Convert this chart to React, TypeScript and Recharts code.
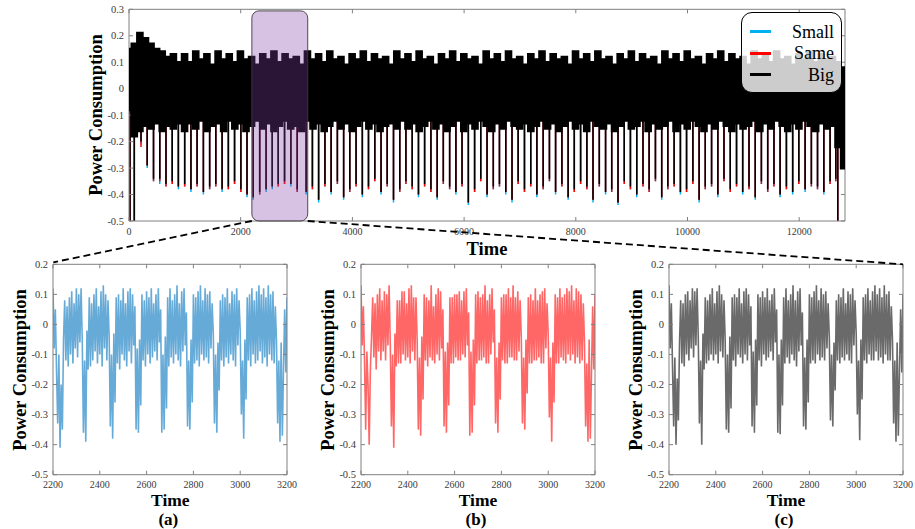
import { ComposedChart, LineChart, Line, Bar, XAxis, YAxis, ReferenceArea, Legend } from 'recharts'

const FONT = '"Liberation Serif", "Times New Roman", serif'
const AXIS = '#808080'
const TICK_TXT = '#3a3a3a'

// ---- top trace: envelope of the dense signal, read every 100 time units
const BAND_STEP = 100
const BAND_HI = [
  0.15, 0.17, 0.21, 0.19, 0.17, 0.15, 0.14, 0.12, 0.13, 0.10,
  0.13, 0.10, 0.14, 0.11, 0.13, 0.09, 0.14, 0.11, 0.13, 0.10,
  0.14, 0.11, 0.12, 0.09, 0.13, 0.11, 0.14, 0.10, 0.13, 0.11,
  0.12, 0.09, 0.14, 0.11, 0.13, 0.10, 0.14, 0.11, 0.12, 0.09,
  0.13, 0.11, 0.14, 0.10, 0.13, 0.11, 0.12, 0.09, 0.14, 0.11,
  0.13, 0.10, 0.14, 0.11, 0.12, 0.09, 0.13, 0.11, 0.14, 0.10,
  0.13, 0.11, 0.12, 0.09, 0.14, 0.11, 0.13, 0.10, 0.14, 0.11,
  0.12, 0.09, 0.13, 0.11, 0.14, 0.10, 0.13, 0.11, 0.12, 0.09,
  0.14, 0.11, 0.13, 0.10, 0.14, 0.11, 0.12, 0.09, 0.13, 0.11,
  0.14, 0.10, 0.13, 0.11, 0.12, 0.09, 0.14, 0.11, 0.13, 0.10,
  0.14, 0.11, 0.12, 0.09, 0.13, 0.11, 0.14, 0.10, 0.13, 0.11,
  0.12, 0.09, 0.14, 0.11, 0.13, 0.10, 0.14, 0.11, 0.12, 0.09,
  0.13, 0.11, 0.14, 0.10, 0.13, 0.11, 0.12, 0.10, 0.08,
]
const BAND_LO = [
  -0.08, -0.18, -0.16, -0.14, -0.15, -0.13, -0.16, -0.14, -0.15, -0.13,
  -0.16, -0.13, -0.15, -0.12, -0.16, -0.14, -0.13, -0.16, -0.12, -0.15,
  -0.13, -0.16, -0.14, -0.12, -0.15, -0.13, -0.16, -0.14, -0.12, -0.15,
  -0.14, -0.16, -0.12, -0.15, -0.13, -0.16, -0.14, -0.12, -0.15, -0.13,
  -0.16, -0.14, -0.12, -0.15, -0.13, -0.16, -0.14, -0.13, -0.15, -0.12,
  -0.15, -0.13, -0.16, -0.14, -0.12, -0.15, -0.13, -0.16, -0.14, -0.12,
  -0.16, -0.13, -0.15, -0.12, -0.14, -0.16, -0.13, -0.15, -0.12, -0.14,
  -0.15, -0.13, -0.16, -0.14, -0.12, -0.15, -0.13, -0.16, -0.14, -0.12,
  -0.15, -0.13, -0.16, -0.12, -0.14, -0.15, -0.13, -0.16, -0.14, -0.12,
  -0.15, -0.14, -0.12, -0.16, -0.13, -0.15, -0.14, -0.12, -0.16, -0.13,
  -0.15, -0.12, -0.14, -0.16, -0.13, -0.15, -0.12, -0.14, -0.16, -0.13,
  -0.15, -0.14, -0.12, -0.16, -0.13, -0.15, -0.12, -0.14, -0.16, -0.13,
  -0.15, -0.12, -0.14, -0.16, -0.13, -0.15, -0.14, -0.22, -0.30,
]

// downward spikes, one per cycle
const SPIKE_T = [
  18, 95, 215, 326, 439, 551, 662, 774, 884, 997, 1109, 1219, 1332, 1444, 1554, 1667, 1779, 1890, 2003, 2113,
  2225, 2340, 2455, 2565, 2672, 2785, 2898, 3012, 3172,
  3284, 3395, 3508, 3619, 3731, 3843, 3953, 4066, 4178, 4288,
  4401, 4513, 4623, 4736, 4848, 4958, 5071, 5183, 5293, 5406,
  5518, 5628, 5741, 5853, 5963, 6076, 6188, 6298, 6411, 6523,
  6633, 6746, 6858, 6968, 7081, 7193, 7303, 7416, 7528, 7638,
  7751, 7863, 7973, 8086, 8198, 8308, 8421, 8533, 8643, 8756,
  8868, 8978, 9091, 9203, 9313, 9426, 9538, 9648, 9761, 9873,
  9983, 10096, 10208, 10318, 10431, 10543, 10653, 10766, 10878, 10988,
  11101, 11213, 11323, 11436,
  11548, 11658, 11771, 11883, 11993, 12106, 12218, 12328, 12441, 12553,
  12655, 12690,
]
const SPIKE_BIG = [
  -0.6, -0.6, -0.20, -0.29, -0.34, -0.34, -0.36, -0.35, -0.37, -0.36, -0.38, -0.36, -0.39, -0.37, -0.36, -0.38, -0.37, -0.35, -0.38, -0.40,
  -0.41, -0.39, -0.38, -0.37, -0.36, -0.35, -0.36, -0.38, -0.39,
  -0.37, -0.42, -0.36, -0.39, -0.35, -0.41, -0.38, -0.36, -0.40, -0.37,
  -0.34, -0.39, -0.36, -0.42, -0.38, -0.35, -0.37, -0.40, -0.36, -0.38,
  -0.41, -0.35, -0.37, -0.39, -0.36, -0.43, -0.38, -0.34, -0.40, -0.37,
  -0.36, -0.39, -0.42, -0.35, -0.38, -0.36, -0.40, -0.37, -0.34, -0.39,
  -0.36, -0.41, -0.38, -0.35, -0.37, -0.42, -0.36, -0.39, -0.38, -0.43,
  -0.35, -0.37, -0.40, -0.36, -0.38, -0.34, -0.41, -0.37, -0.36, -0.39,
  -0.38, -0.35, -0.42, -0.37, -0.36, -0.40, -0.34, -0.38, -0.36, -0.39,
  -0.37, -0.41, -0.35, -0.38,
  -0.36, -0.40, -0.37, -0.39, -0.35, -0.38, -0.36, -0.37, -0.39, -0.35,
  -0.34, -0.6,
]
const SPIKE_SMALL = [
  -0.6, -0.6, -0.21, -0.30, -0.35, -0.36, -0.37, -0.36, -0.38, -0.37, -0.39, -0.37, -0.40, -0.38, -0.37, -0.39, -0.38, -0.36, -0.39, -0.41,
  -0.42, -0.40, -0.39, -0.38, -0.37, -0.36, -0.37, -0.39, -0.40,
  -0.38, -0.43, -0.37, -0.40, -0.36, -0.42, -0.39, -0.37, -0.41, -0.38,
  -0.35, -0.40, -0.37, -0.43, -0.39, -0.36, -0.38, -0.41, -0.37, -0.39,
  -0.42, -0.36, -0.38, -0.40, -0.37, -0.44, -0.39, -0.35, -0.41, -0.38,
  -0.37, -0.40, -0.43, -0.36, -0.39, -0.37, -0.41, -0.38, -0.35, -0.40,
  -0.37, -0.42, -0.39, -0.36, -0.38, -0.43, -0.37, -0.40, -0.39, -0.44,
  -0.36, -0.38, -0.41, -0.37, -0.39, -0.35, -0.42, -0.38, -0.37, -0.40,
  -0.39, -0.36, -0.43, -0.38, -0.37, -0.41, -0.35, -0.39, -0.37, -0.40,
  -0.38, -0.42, -0.36, -0.39,
  -0.37, -0.41, -0.38, -0.40, -0.36, -0.39, -0.37, -0.38, -0.40, -0.36,
  -0.35, -0.6,
]
const SPIKE_SAME = [
  -0.6, -0.6, -0.22, -0.29, -0.35, -0.35, -0.37, -0.36, -0.37, -0.37, -0.38, -0.37, -0.39, -0.38, -0.37, -0.38, -0.38, -0.36, -0.39, -0.40,
  -0.41, -0.40, -0.38, -0.37, -0.37, -0.36, -0.36, -0.39, -0.39,
  -0.38, -0.42, -0.37, -0.39, -0.36, -0.41, -0.39, -0.37, -0.40, -0.38,
  -0.35, -0.39, -0.37, -0.42, -0.39, -0.36, -0.38, -0.40, -0.37, -0.39,
  -0.41, -0.36, -0.38, -0.39, -0.37, -0.43, -0.39, -0.35, -0.40, -0.38,
  -0.37, -0.39, -0.42, -0.36, -0.39, -0.37, -0.40, -0.38, -0.35, -0.39,
  -0.37, -0.41, -0.39, -0.36, -0.38, -0.42, -0.37, -0.39, -0.39, -0.43,
  -0.36, -0.38, -0.40, -0.37, -0.39, -0.35, -0.41, -0.38, -0.37, -0.39,
  -0.39, -0.36, -0.42, -0.38, -0.37, -0.40, -0.35, -0.39, -0.37, -0.39,
  -0.38, -0.41, -0.36, -0.39,
  -0.37, -0.40, -0.38, -0.39, -0.36, -0.38, -0.37, -0.38, -0.39, -0.36,
  -0.35, -0.6,
]
const SPIKE_BASE = -0.04

const TOP_X_MAX = 12820
const TOP_X_TICKS = [0, 2000, 4000, 6000, 8000, 10000, 12000]
const TOP_Y_TICKS = [-0.5, -0.4, -0.3, -0.2, -0.1, 0, 0.1, 0.2, 0.3]
const ZOOM_RANGE = [2200, 3200]
const ZOOM_TOP = 0.294

// ---- zoomed window 2200..3200, read every 5 time units
const DETAIL_START = 2200
const DETAIL_STEP = 5
const DETAIL_SMALL = [
  0.12, -0.08, 0.05,
  -0.15, -0.33, -0.1, -0.41, -0.2, -0.35, -0.05,
  0.08, -0.12, 0.06, -0.14, 0.09, -0.1, 0.11, -0.13, 0.07, -0.08, 0.12, -0.11, 0.1, -0.06, 0.12,
  -0.05, -0.36, -0.12, -0.39, -0.02, -0.15,
  0.09, -0.14, 0.07, -0.12, 0.1, -0.09, 0.12, -0.13, 0.06, -0.1, 0.11, -0.14, 0.13, -0.08, 0.1, -0.12, 0.08, -0.04,
  -0.34, -0.1, -0.38, -0.03, -0.26,
  0.09, -0.13, 0.1, -0.15, 0.08, -0.1, 0.12, -0.12, 0.07, -0.14, 0.11, -0.09, 0.12, -0.13, 0.1, -0.07, 0.06,
  -0.35, -0.08, -0.36, -0.05, -0.27,
  0.1, -0.12, 0.08, -0.14, 0.11, -0.1, 0.09, -0.13, 0.12, -0.11, 0.07, -0.09, 0.1, -0.12, 0.12, -0.06, 0.05,
  -0.36, -0.1, -0.35, -0.04, -0.28,
  0.09, -0.14, 0.12, -0.11, 0.08, -0.13, 0.1, -0.1, 0.13, -0.12, 0.07, -0.14, 0.11, -0.09, 0.12, -0.07, 0.04,
  -0.34, -0.12, -0.35, -0.05, -0.26,
  0.1, -0.13, 0.09, -0.12, 0.11, -0.14, 0.13, -0.1, 0.08, -0.12, 0.12, -0.11, 0.1, -0.13, 0.11, -0.08, 0.07, -0.03,
  -0.33, -0.1, -0.36, -0.06, -0.22,
  0.08, -0.12, 0.1, -0.14, 0.09, -0.11, 0.12, -0.13, 0.07, -0.1, 0.11, -0.12, 0.1, -0.14, 0.12, -0.07, 0.08, -0.02,
  -0.3, -0.12, -0.38, -0.05, -0.25,
  0.09, -0.12, 0.1, -0.14, 0.12, -0.1, 0.08, -0.13, 0.11, -0.12, 0.13, -0.09, 0.1, -0.13, 0.12, -0.11, 0.09, -0.14, 0.13, -0.1, 0.1, -0.12, 0.11, -0.13, 0.06, -0.05,
  -0.33, -0.12, -0.39, -0.06, -0.37, -0.15,
  0.05, -0.16, 0.09,
]
const DETAIL_SAME = [
  0.13, -0.07, 0.06,
  -0.12, -0.35, -0.09, -0.2, -0.4, -0.15, -0.04,
  0.09, -0.11, 0.07, -0.15, 0.1, -0.09, 0.12, -0.12, 0.08, -0.09, 0.11, -0.12, 0.1, -0.07, 0.13,
  -0.06, -0.34, -0.1, -0.41, -0.03, -0.14,
  0.08, -0.13, 0.08, -0.13, 0.11, -0.1, 0.11, -0.12, 0.07, -0.11, 0.12, -0.13, 0.13, -0.09, 0.09, -0.12, 0.09, -0.05,
  -0.35, -0.11, -0.37, -0.04, -0.25,
  0.1, -0.12, 0.09, -0.14, 0.08, -0.11, 0.13, -0.12, 0.06, -0.13, 0.1, -0.1, 0.12, -0.12, 0.11, -0.08, 0.05,
  -0.34, -0.09, -0.36, -0.06, -0.27,
  0.09, -0.13, 0.09, -0.13, 0.1, -0.11, 0.1, -0.12, 0.11, -0.12, 0.08, -0.1, 0.11, -0.11, 0.12, -0.07, 0.04,
  -0.37, -0.09, -0.36, -0.05, -0.27,
  0.1, -0.13, 0.11, -0.12, 0.09, -0.12, 0.1, -0.11, 0.13, -0.13, 0.08, -0.13, 0.1, -0.1, 0.12, -0.06, 0.05,
  -0.33, -0.11, -0.36, -0.06, -0.25,
  0.09, -0.12, 0.1, -0.13, 0.1, -0.13, 0.12, -0.11, 0.09, -0.11, 0.13, -0.12, 0.09, -0.12, 0.11, -0.09, 0.08, -0.04,
  -0.33, -0.11, -0.35, -0.05, -0.23,
  0.09, -0.13, 0.1, -0.13, 0.08, -0.12, 0.12, -0.12, 0.08, -0.11, 0.1, -0.13, 0.11, -0.13, 0.12, -0.08, 0.07, -0.03,
  -0.31, -0.11, -0.39, -0.06, -0.26,
  0.1, -0.13, 0.09, -0.13, 0.12, -0.11, 0.09, -0.12, 0.1, -0.13, 0.12, -0.1, 0.11, -0.12, 0.13, -0.1, 0.08, -0.13, 0.12, -0.11, 0.11, -0.13, 0.1, -0.12, 0.07, -0.06,
  -0.34, -0.13, -0.39, -0.05, -0.38, -0.16,
  0.06, -0.15, 0.1,
]
const DETAIL_BIG = [
  0.13, -0.08, 0.07,
  -0.14, -0.34, -0.11, -0.4, -0.18, -0.32, -0.06,
  0.08, -0.13, 0.07, -0.14, 0.1, -0.1, 0.11, -0.12, 0.08, -0.08, 0.12, -0.11, 0.11, -0.07, 0.12,
  -0.04, -0.33, -0.12, -0.4, -0.03, -0.15,
  0.09, -0.13, 0.08, -0.12, 0.1, -0.1, 0.12, -0.12, 0.07, -0.1, 0.11, -0.13, 0.13, -0.09, 0.1, -0.11, 0.08, -0.05,
  -0.35, -0.1, -0.36, -0.04, -0.28,
  0.09, -0.12, 0.1, -0.14, 0.09, -0.1, 0.12, -0.11, 0.07, -0.13, 0.11, -0.1, 0.12, -0.12, 0.1, -0.07, 0.06,
  -0.34, -0.09, -0.36, -0.05, -0.27,
  0.1, -0.12, 0.09, -0.14, 0.11, -0.1, 0.09, -0.12, 0.12, -0.11, 0.08, -0.09, 0.1, -0.12, 0.12, -0.06, 0.05,
  -0.36, -0.1, -0.365, -0.05, -0.27,
  0.09, -0.13, 0.12, -0.11, 0.08, -0.13, 0.1, -0.1, 0.13, -0.12, 0.08, -0.14, 0.11, -0.09, 0.12, -0.07, 0.04,
  -0.34, -0.11, -0.35, -0.05, -0.26,
  0.1, -0.13, 0.09, -0.12, 0.11, -0.13, 0.13, -0.1, 0.08, -0.12, 0.12, -0.11, 0.1, -0.12, 0.11, -0.08, 0.07, -0.04,
  -0.32, -0.1, -0.34, -0.06, -0.22,
  0.08, -0.12, 0.1, -0.13, 0.09, -0.11, 0.12, -0.12, 0.07, -0.1, 0.11, -0.12, 0.1, -0.13, 0.12, -0.07, 0.08, -0.03,
  -0.3, -0.12, -0.385, -0.05, -0.25,
  0.09, -0.12, 0.1, -0.13, 0.12, -0.1, 0.08, -0.12, 0.11, -0.12, 0.13, -0.09, 0.1, -0.12, 0.12, -0.11, 0.09, -0.13, 0.13, -0.1, 0.1, -0.12, 0.11, -0.12, 0.06, -0.05,
  -0.33, -0.12, -0.39, -0.06, -0.37, -0.15,
  0.05, -0.16, 0.1,
]
const DETAIL_X_TICKS = [2200, 2400, 2600, 2800, 3000, 3200]
const DETAIL_Y_TICKS = [-0.5, -0.4, -0.3, -0.2, -0.1, 0, 0.1, 0.2]

const LEGEND_ORDER = ['Small', 'Same', 'Big']

// layout (page pixels)
const TOP = { left: 129, top: 9.3, width: 716, height: 211.7 }
const DETAIL = { top: 264.3, width: 234, height: 210.4 }
const DETAIL_LEFTS = [53.3, 361, 669]
const AX = { bottom: 30, top: 5, left: 40, right: 10 }

const bandData = BAND_HI.map((hi, i) => ({ t: i * BAND_STEP, band: [BAND_LO[i], hi] }))

function spikeRows(depths: number[]) {
  const n = Math.min(SPIKE_T.length, depths.length)
  const rows: { t: number; v: number }[] = []
  for (let i = 0; i < n; i++) {
    rows.push({ t: SPIKE_T[i], v: SPIKE_BASE }, { t: SPIKE_T[i], v: depths[i] }, { t: SPIKE_T[i], v: SPIKE_BASE })
  }
  return rows
}

const fmt = (v: number) => (v === 0 ? '0' : String(v))

function tickRenderer(side: 'bottom' | 'top' | 'left' | 'right', label: boolean) {
  return (p: any) => {
    const { x, y, payload } = p
    if (side === 'bottom' || side === 'top') {
      const d = side === 'bottom' ? -4 : 4
      return (
        <g>
          <line x1={x} y1={y} x2={x} y2={y + d} stroke={AXIS} />
          {label && (
            <text x={x} y={y + 10} textAnchor="middle" dy="0.35em" fontSize={10} fontFamily={FONT} fill={TICK_TXT}>
              {fmt(payload.value)}
            </text>
          )}
        </g>
      )
    }
    const d = side === 'left' ? 4 : -4
    return (
      <g>
        <line x1={x} y1={y} x2={x + d} y2={y} stroke={AXIS} />
        {label && (
          <text x={x - 5} y={y} textAnchor="end" dy="0.35em" fontSize={10.5} fontFamily={FONT} fill={TICK_TXT}>
            {fmt(payload.value)}
          </text>
        )}
      </g>
    )
  }
}

function YTitle({ cx, cy }: { cx: number; cy: number }) {
  return (
    <div style={{ position: 'absolute', left: cx, top: cy, transform: 'translate(-50%, -50%) rotate(-90deg)', whiteSpace: 'nowrap', fontFamily: FONT, fontWeight: 700, fontSize: 18.5, lineHeight: 0.9, color: '#000' }}>
      Power Consumption
    </div>
  )
}

function CenterText({ cx, cy, text, size = 18.5 }: { cx: number; cy: number; text: string; size?: number }) {
  return (
    <div style={{ position: 'absolute', left: cx, top: cy, transform: 'translate(-50%, -50%)', whiteSpace: 'nowrap', fontFamily: FONT, fontWeight: 700, fontSize: size, lineHeight: 0.85, color: '#000' }}>
      {text}
    </div>
  )
}

function renderLegend(props: any) {
  const payload = props.payload || []
  const items = LEGEND_ORDER.map((name) => payload.find((p: any) => p.value === name)).filter(Boolean)
  return (
    <div style={{ position: 'relative', width: 101, height: 81, boxSizing: 'border-box', border: '1px solid #000', borderRadius: 11, background: 'rgba(255,255,255,0.8)' }}>
      {items.map((it: any, i: number) => (
        <div key={it.value} style={{ position: 'absolute', left: 0, right: 0, top: 18.5 + i * 21.7, height: 0 }}>
          <div style={{ position: 'absolute', left: 8, top: -1.5, width: 21, height: 3, background: it.color }} />
          <div style={{ position: 'absolute', right: 7, top: 0, transform: 'translateY(-50%)', fontFamily: FONT, fontSize: 18, lineHeight: 1, color: '#000' }}>
            {it.value}
          </div>
        </div>
      ))}
    </div>
  )
}

function axisSet(xDomain: number[], xTicks: number[], yDomain: number[], yTicks: number[], visible = true) {
  const common = { axisLine: visible ? { stroke: AXIS } : false, tickLine: false, tickSize: 0, tickMargin: 0, interval: 0 as const }
  return [
    <XAxis key="xb" dataKey="t" type="number" domain={xDomain} ticks={xTicks} allowDataOverflow height={AX.bottom} {...common} tick={visible ? tickRenderer('bottom', true) : false} />,
    <XAxis key="xt" xAxisId="top" orientation="top" dataKey="t" type="number" domain={xDomain} ticks={xTicks} allowDataOverflow height={AX.top} {...common} tick={visible ? tickRenderer('top', false) : false} />,
    <YAxis key="yl" type="number" domain={yDomain} ticks={yTicks} allowDataOverflow width={AX.left} {...common} tick={visible ? tickRenderer('left', true) : false} />,
    <YAxis key="yr" yAxisId="right" orientation="right" type="number" domain={yDomain} ticks={yTicks} allowDataOverflow width={AX.right} {...common} tick={visible ? tickRenderer('right', false) : false} />,
  ]
}

function TopChart() {
  const W = 915
  const H = 262
  const margin = {
    top: TOP.top - AX.top,
    left: TOP.left - AX.left,
    right: W - TOP.left - TOP.width - AX.right,
    bottom: H - TOP.top - TOP.height - AX.bottom,
  }
  return (
    <div style={{ position: 'absolute', left: 0, top: 0, width: W, height: H }}>
      {/* layer 1: axes, the three traces' spikes and the legend */}
      <div style={{ position: 'absolute', left: 0, top: 0 }}>
        <ComposedChart width={W} height={H} margin={margin}>
          {axisSet([0, TOP_X_MAX], TOP_X_TICKS, [-0.5, 0.3], TOP_Y_TICKS)}
          <Line data={spikeRows(SPIKE_SMALL)} dataKey="v" name="Small" stroke="#00B0F0" strokeWidth={1.5} dot={false} isAnimationActive={false} />
          <Line data={spikeRows(SPIKE_SAME)} dataKey="v" name="Same" stroke="#FF0000" strokeWidth={1.5} dot={false} isAnimationActive={false} />
          <Line data={spikeRows(SPIKE_BIG)} dataKey="v" name="Big" stroke="#000" strokeWidth={1.5} dot={false} isAnimationActive={false} />
          <Legend content={renderLegend} layout="horizontal" verticalAlign="middle" wrapperStyle={{ left: 741, top: 12, width: 101, height: 81, zIndex: 5 }} />
        </ComposedChart>
      </div>
      {/* layer 2: the dense envelope (range bars) and the zoom window on top */}
      <div style={{ position: 'absolute', left: 0, top: 0 }}>
        <ComposedChart width={W} height={H} margin={margin} data={bandData} barGap={0} barCategoryGap={0}>
          {axisSet([0, TOP_X_MAX], TOP_X_TICKS, [-0.5, 0.3], TOP_Y_TICKS, false)}
          <Bar dataKey="band" fill="#000" stroke="#000" strokeWidth={2.6} barSize={6} isAnimationActive={false} legendType="none" />
          <ReferenceArea x1={ZOOM_RANGE[0]} x2={ZOOM_RANGE[1]} y1={-0.5} y2={ZOOM_TOP} zIndex={900}
            shape={(p: any) => (
              <rect x={p.x} y={p.y} width={p.width} height={p.height} rx={7} ry={7} fill="rgb(132,66,167)" fillOpacity={0.32} stroke="#3a3a3a" strokeWidth={0.9} />
            )} />
        </ComposedChart>
      </div>
      <YTitle cx={TOP.left - 33} cy={TOP.top + TOP.height / 2} />
      <CenterText cx={TOP.left + TOP.width / 2} cy={TOP.top + TOP.height + 29} text="Time" />
    </div>
  )
}

function DetailChart({ values, color, opacity, left, tag, name }: { values: number[]; color: string; opacity: number; left: number; tag: string; name: string }) {
  const data = values.map((v, i) => ({ t: DETAIL_START + i * DETAIL_STEP, v }))
  const padL = 60
  const padR = 12
  const divTop = 250
  const W = padL + DETAIL.width + padR
  const H = 279
  const mt = DETAIL.top - divTop
  const margin = { top: mt - AX.top, left: padL - AX.left, right: padR - AX.right, bottom: H - mt - DETAIL.height - AX.bottom }
  return (
    <div style={{ position: 'absolute', left: left - padL, top: divTop, width: W, height: H }}>
      <LineChart width={W} height={H} data={data} margin={margin}>
        {axisSet([2200, 3200], DETAIL_X_TICKS, [-0.5, 0.2], DETAIL_Y_TICKS)}
        <Line dataKey="v" name={name} stroke={color} strokeOpacity={opacity} strokeWidth={1.6} dot={false} isAnimationActive={false} />
      </LineChart>
      <YTitle cx={padL - 33.5} cy={mt + DETAIL.height / 2} />
      <CenterText cx={padL + DETAIL.width / 2} cy={mt + DETAIL.height + 25.6} text="Time" size={17.5} />
      <CenterText cx={padL + DETAIL.width / 2 - 2} cy={mt + DETAIL.height + 44.8} text={tag} size={17} />
    </div>
  )
}

function Connectors() {
  const bottom = TOP.top + TOP.height
  const x1 = TOP.left + (ZOOM_RANGE[0] / TOP_X_MAX) * TOP.width
  const x2 = TOP.left + (ZOOM_RANGE[1] / TOP_X_MAX) * TOP.width
  const rightEnd = DETAIL_LEFTS[2] + DETAIL.width
  return (
    <svg width={915} height={529} style={{ position: 'absolute', left: 0, top: 0, pointerEvents: 'none' }}>
      <line x1={x1} y1={bottom} x2={DETAIL_LEFTS[0]} y2={DETAIL.top - 2} stroke="#000" strokeWidth={1.8} strokeDasharray="7 4" />
      <line x1={x2} y1={bottom} x2={rightEnd} y2={DETAIL.top} stroke="#000" strokeWidth={1.8} strokeDasharray="7 4" />
    </svg>
  )
}

const DETAILS = [
  { tag: '(a)', name: 'Small', values: DETAIL_SMALL, color: '#0072BD', opacity: 0.6 },
  { tag: '(b)', name: 'Same', values: DETAIL_SAME, color: '#FF0000', opacity: 0.6 },
  { tag: '(c)', name: 'Big', values: DETAIL_BIG, color: '#1a1a1a', opacity: 0.65 },
]

export default function App() {
  return (
    <div style={{ position: 'relative', width: 915, height: 529, background: '#fff', overflow: 'hidden' }}>
      <style>{'body{margin:0;background:#fff}'}</style>
      <TopChart />
      {DETAILS.map((d, i) => (
        <DetailChart key={d.tag} {...d} left={DETAIL_LEFTS[i]} />
      ))}
      <Connectors />
    </div>
  )
}
